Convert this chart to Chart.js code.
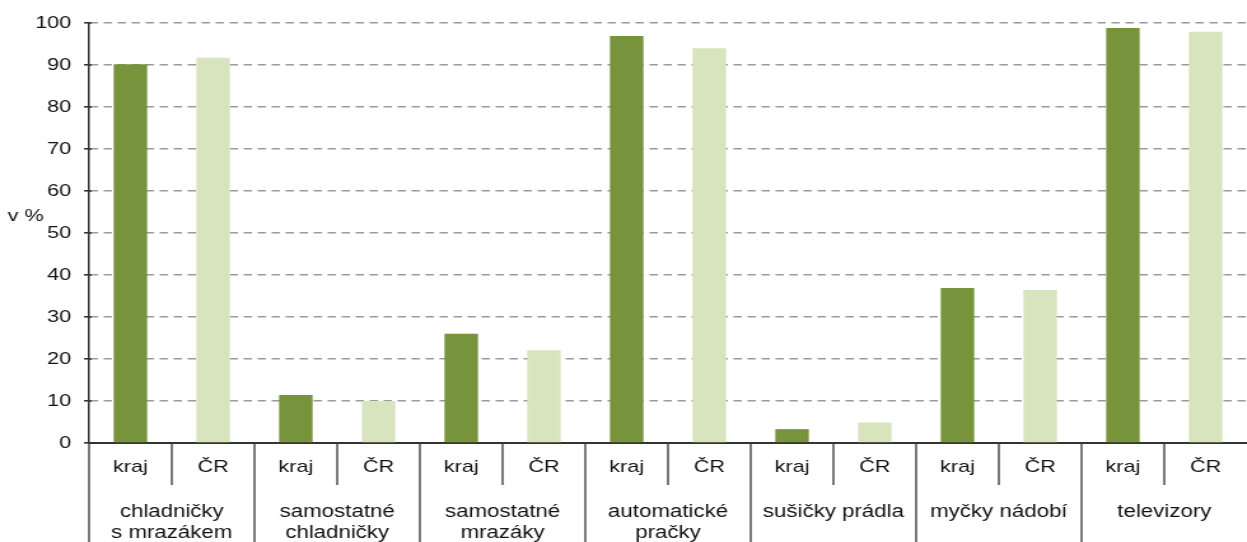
<!DOCTYPE html>
<html>
<head>
<meta charset="utf-8">
<script src="https://cdn.jsdelivr.net/npm/chart.js@4.4.1/dist/chart.umd.min.js"></script>
<style>
  html, body { margin: 0; padding: 0; background: #fff; overflow: hidden; width: 1247px; height: 542px; }
  /* the source picture is stretched sideways, so the canvas is too */
  #wrap { width: 980px; height: 560px; transform: scaleX(1.2724); transform-origin: 0 0; }
</style>
</head>
<body>
<div id="wrap"><canvas id="chart" width="980" height="560"></canvas></div>
<script>
/* data */
const groups = [
  ['chladničky', 's mrazákem'],
  ['samostatné', 'chladničky'],
  ['samostatné', 'mrazáky'],
  ['automatické', 'pračky'],
  'sušičky prádla',
  'myčky nádobí',
  'televizory'
];
const seriesNames = ['kraj', 'ČR'];
const krajValues = [90.2, 11.4, 26.0, 96.9, 3.3, 36.9, 98.8];
const crValues   = [91.7, 10.0, 22.1, 94.0, 4.9, 36.4, 97.9];
const yTicks = [0, 10, 20, 30, 40, 50, 60, 70, 80, 90, 100];

const DARK = '#77933c';
const LIGHT = '#d7e4bd';
const FONT = '"Liberation Sans", Arial, sans-serif';
const TEXT = '#111';

/* one bar per slot: kraj, ČR, kraj, ČR ... */
const labels = [];
const values = [];
const colors = [];
groups.forEach((g, i) => {
  labels.push(seriesNames[0], seriesNames[1]);
  values.push(krajValues[i], crValues[i]);
  colors.push(DARK, LIGHT);
});

/* divider lines of the two-row axis, small y ticks right of the axis, and the "v %" label */
const axisExtras = {
  id: 'axisExtras',
  afterDraw(chart) {
    const ctx = chart.ctx;
    const x = chart.scales.x;
    const y = chart.scales.y;
    const row2 = chart.scales.x2;
    ctx.save();
    ctx.strokeStyle = '#404040';
    ctx.lineWidth = 1.4;
    for (let i = 0; i < labels.length; i++) {
      const px = x.getPixelForValue(i - 0.5);
      const bottom = (i % 2 === 0) ? chart.height : row2.top;
      ctx.beginPath();
      ctx.moveTo(px, x.top);
      ctx.lineTo(px, bottom);
      ctx.stroke();
    }
    ctx.strokeStyle = '#333';
    ctx.lineWidth = 1.5;
    yTicks.forEach(v => {
      const py = y.getPixelForValue(v);
      ctx.beginPath();
      ctx.moveTo(y.right, py);
      ctx.lineTo(y.right + 2, py);
      ctx.stroke();
    });
    ctx.fillStyle = TEXT;
    ctx.font = '17px ' + FONT;
    ctx.textAlign = 'left';
    ctx.textBaseline = 'middle';
    ctx.fillText('v %', 6, y.getPixelForValue(54));
    ctx.restore();
  }
};

new Chart(document.getElementById('chart'), {
  type: 'bar',
  data: {
    labels: labels,
    datasets: [{
      data: values,
      backgroundColor: colors,
      borderWidth: 0,
      barPercentage: 0.405,
      categoryPercentage: 1
    }]
  },
  options: {
    responsive: false,
    animation: false,
    devicePixelRatio: 1,
    layout: { padding: { top: 23, left: 0, right: 0, bottom: 0 } },
    plugins: { legend: { display: false }, tooltip: { enabled: false } },
    scales: {
      y: {
        min: 0,
        max: 100,
        afterFit: s => { s.width = 70; },
        afterBuildTicks: s => { s.ticks = yTicks.map(v => ({ value: v })); },
        ticks: { color: TEXT, font: { family: FONT, size: 17 }, padding: 10 },
        grid: {
          color: '#9a9a9a',
          lineWidth: 1.6,
          tickColor: '#333',
          tickLength: 4,
          tickBorderDash: []
        },
        border: { display: true, color: '#333', width: 1.5, dash: [6.5, 4.5] }
      },
      x: {
        position: 'bottom',
        afterFit: s => { s.height = 42; },
        ticks: { color: TEXT, font: { family: FONT, size: 17 }, padding: 14, maxRotation: 0, autoSkip: false },
        grid: { display: false, drawTicks: false },
        border: { display: true, color: '#333', width: 2 }
      },
      x2: {
        type: 'category',
        position: 'bottom',
        labels: groups,
        offset: true,
        afterFit: s => { s.height = 75; },
        ticks: {
          color: TEXT,
          font: { family: FONT, size: 17.5, lineHeight: 1.22 },
          padding: 16,
          maxRotation: 0,
          autoSkip: false
        },
        grid: { display: false, drawTicks: false, offset: true },
        border: { display: false }
      }
    }
  },
  plugins: [axisExtras]
});
</script>
</body>
</html>
